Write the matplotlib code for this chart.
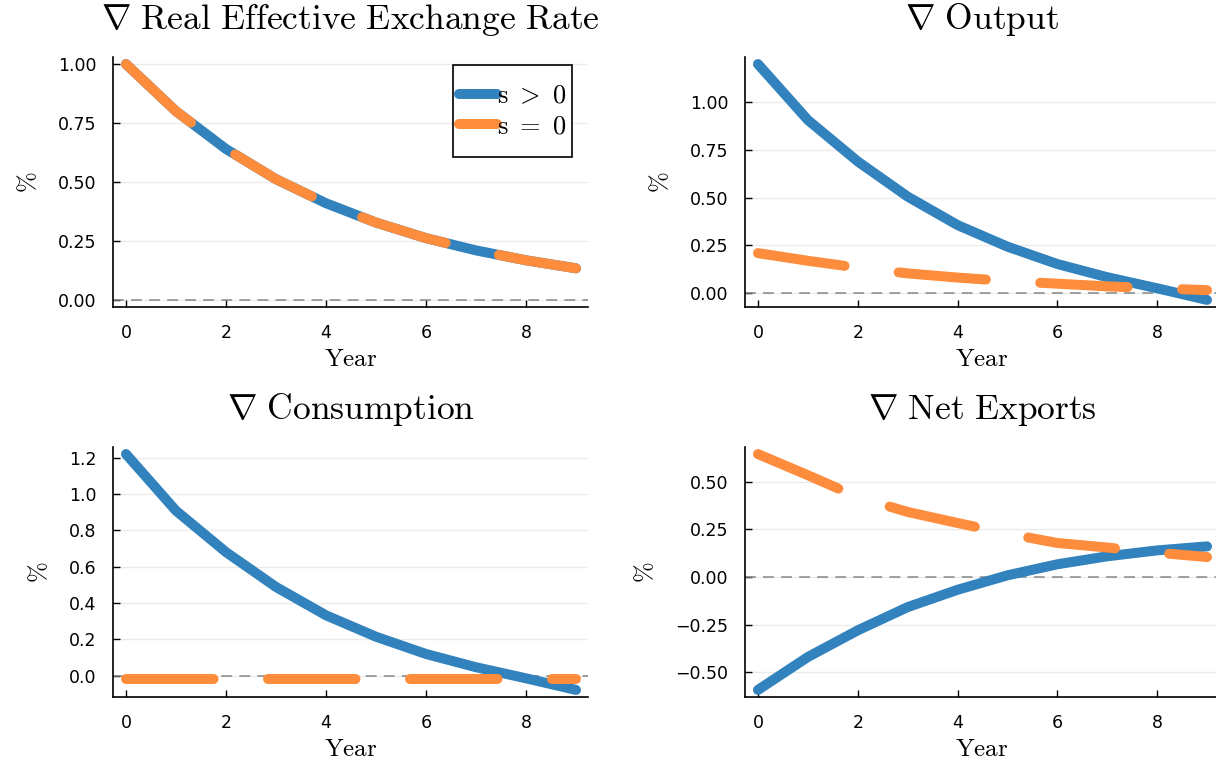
import matplotlib
matplotlib.use("Agg")
import matplotlib.pyplot as plt
import numpy as np

plt.rcParams['mathtext.fontset'] = 'cm'
plt.rcParams['font.family'] = ['DejaVu Sans']

years = np.arange(10)

# impulse responses
reer_pos = [1.00, 0.80, 0.64, 0.512, 0.41, 0.328, 0.262, 0.21, 0.168, 0.134]
reer_zero = [1.00, 0.80, 0.64, 0.512, 0.41, 0.328, 0.262, 0.21, 0.168, 0.134]

out_pos = [1.20, 0.907, 0.69, 0.506, 0.357, 0.244, 0.153, 0.084, 0.026, -0.035]
out_zero = [0.21, 0.17, 0.134, 0.104, 0.082, 0.064, 0.05, 0.036, 0.026, 0.016]

cons_pos = [1.22, 0.908, 0.68, 0.488, 0.332, 0.214, 0.119, 0.046, -0.015, -0.079]
cons_zero = [-0.02, -0.02, -0.02, -0.02, -0.02, -0.02, -0.02, -0.02, -0.02, -0.02]

nx_pos = [-0.593, -0.42, -0.28, -0.158, -0.067, 0.009, 0.067, 0.109, 0.14, 0.161]
nx_zero = [0.646, 0.535, 0.42, 0.342, 0.284, 0.228, 0.179, 0.155, 0.128, 0.105]

titles = [r"$\nabla\ \mathrm{Real\ Effective\ Exchange\ Rate}$",
          r"$\nabla\ \mathrm{Output}$",
          r"$\nabla\ \mathrm{Consumption}$",
          r"$\nabla\ \mathrm{Net\ Exports}$"]
series = [(reer_pos, reer_zero), (out_pos, out_zero),
          (cons_pos, cons_zero), (nx_pos, nx_zero)]
yticks = [np.arange(0, 1.01, 0.25), np.arange(0, 1.01, 0.25),
          np.arange(0, 1.21, 0.2), np.arange(-0.5, 0.51, 0.25)]
yfmt = ["%.2f", "%.2f", "%.1f", "%.2f"]

blue = "#3182bd"
orange = "#fd8d3c"

W, H = 1216, 767
fig = plt.figure(figsize=(W / 100, H / 100), dpi=100)
# pixel boxes (left, top, right, bottom)
boxes = [(113, 57, 588, 307), (745, 57, 1219, 307),
         (113, 447, 588, 697), (745, 447, 1219, 697)]

for i, (box, title, (pos, zero)) in enumerate(zip(boxes, titles, series)):
    l, t, r, b = box
    ax = fig.add_axes([l / W, 1 - b / H, (r - l) / W, (b - t) / H])
    ax.plot(years, pos, color=blue, lw=7.2, solid_capstyle='round',
            solid_joinstyle='round', label=r"$\mathrm{s}\ >\ 0$")
    ax.plot(years, zero, color=orange, lw=7.2, linestyle=(0, (8.75, 5.45)),
            dash_capstyle='round', solid_joinstyle='round',
            label=r"$\mathrm{s}\ =\ 0$")
    ax.axhline(0, color='gray', lw=1.3, linestyle=(0, (6, 4)), alpha=0.8, zorder=1)

    lo = min(0, min(pos), min(zero))
    hi = max(0, max(pos), max(zero))
    pad = 0.03 * (hi - lo)
    ax.set_ylim(lo - pad, hi + pad)
    ax.set_xlim(-0.26, 9.24)
    ax.set_xticks([0, 2, 4, 6, 8])
    ax.set_yticks(yticks[i])
    ax.set_yticklabels([(yfmt[i] % v).replace('-', '\u2212') for v in yticks[i]])

    ax.grid(axis='y', color='black', alpha=0.08, lw=1)
    ax.set_axisbelow(True)
    for s in ['top', 'right']:
        ax.spines[s].set_visible(False)
    for s in ['left', 'bottom']:
        ax.spines[s].set_linewidth(1.2)
    ax.tick_params(direction='in', length=5, width=1, labelsize=12.5, pad=12)

    ax.set_title(title, fontsize=25.5, pad=20)
    ax.set_xlabel(r"$\mathrm{Year}$", fontsize=18, labelpad=4)
    ax.set_ylabel(r"$\%$", fontsize=18, labelpad=13)

    if i == 0:
        # legend box: no side padding, extra room above and below
        ax_w, ax_h = r - l, b - t
        leg = ax.legend(loc='upper right', fontsize=19, frameon=True, fancybox=False,
                        handlelength=1.45, handletextpad=0.0, borderpad=0.2,
                        labelspacing=0.15, borderaxespad=0.0,
                        bbox_to_anchor=((572 - l) / ax_w, 1 - (78 - t) / ax_h))
        frame = leg.get_frame()
        frame.set_edgecolor('black')
        frame.set_linewidth(1.2)
        frame.set_alpha(1)
        frame.set_boxstyle('square', pad=0.01)
        frame.set_mutation_aspect(48)
        for h in leg.get_lines():
            h.set_linestyle('-')
            h.set_solid_capstyle('round')

fig.savefig("out.png", dpi=100)
